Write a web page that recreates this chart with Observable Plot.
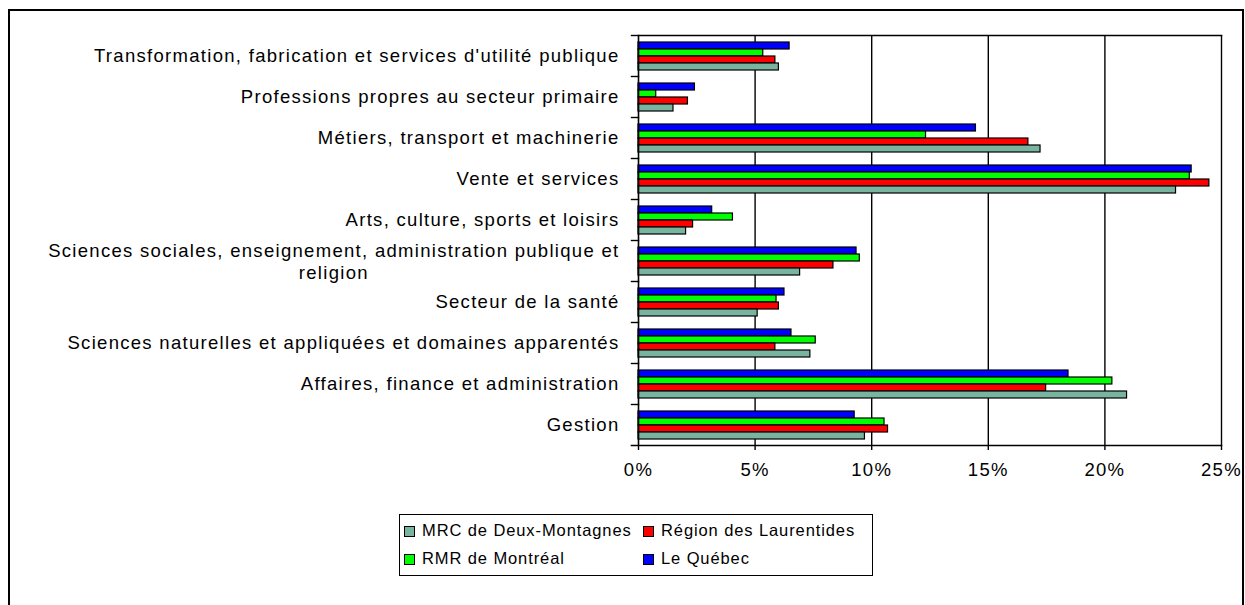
<!DOCTYPE html>
<html>
<head>
<meta charset="utf-8">
<script src="https://cdn.jsdelivr.net/npm/d3@7"></script>
<script src="https://cdn.jsdelivr.net/npm/@observablehq/plot@0.6"></script>
<style>
  html, body { margin: 0; padding: 0; background: #fff; overflow: hidden; width: 1245px; height: 605px; }
  body { font-family: "Liberation Sans", Arial, sans-serif; color: #000; }
  #frame { position: absolute; left: 8px; top: 9px; width: 1236px; height: 700px; border: 2px solid #000; box-sizing: border-box; }
  #chart { position: absolute; left: 0; top: 0; }
  #legend { position: absolute; left: 399px; top: 514px; width: 474px; height: 62px; border: 1.5px solid #000; box-sizing: border-box; background: #fff; font-size: 16.5px; letter-spacing: 0.9px; }
  .item { position: absolute; height: 20px; line-height: 20px; white-space: nowrap; }
  .sw { display: inline-block; width: 11px; height: 11px; border: 1.5px solid #000; box-sizing: border-box; vertical-align: -1px; margin-right: 7px; }
</style>
</head>
<body>
<div id="frame"></div>
<div id="chart"></div>
<div id="legend"></div>
<script>
// Categories, top to bottom
const categories = [
  "Transformation, fabrication et services d'utilité publique",
  "Professions propres au secteur primaire",
  "Métiers, transport et machinerie",
  "Vente et services",
  "Arts, culture, sports et loisirs",
  "Sciences sociales, enseignement, administration publique et religion",
  "Secteur de la santé",
  "Sciences naturelles et appliquées et domaines apparentés",
  "Affaires, finance et administration",
  "Gestion"
];
// Displayed labels (wrapped where the reference wraps)
const categoryLabels = [
  "Transformation, fabrication et services d'utilité publique",
  "Professions propres au secteur primaire",
  "Métiers, transport et machinerie",
  "Vente et services",
  "Arts, culture, sports et loisirs",
  "Sciences sociales, enseignement, administration publique et\nreligion",
  "Secteur de la santé",
  "Sciences naturelles et appliquées et domaines apparentés",
  "Affaires, finance et administration",
  "Gestion"
];
// Series, top to bottom within each group
const series = ["Le Québec", "RMR de Montréal", "Région des Laurentides", "MRC de Deux-Montagnes"];
const seriesColors = ["#0000ff", "#00ff00", "#ff0000", "#78b4a0"];
const legendOrder = ["MRC de Deux-Montagnes", "Région des Laurentides", "RMR de Montréal", "Le Québec"];

// Values (%) per category, same order as categories
const quebec = [6.48, 2.42, 14.47, 23.72, 3.16, 9.35, 6.26, 6.56, 18.44, 9.27];
const rmr    = [5.35, 0.76, 12.33, 23.64, 4.05, 9.49, 5.92, 7.60, 20.32, 10.55];
const region = [5.87, 2.12, 16.72, 24.48, 2.34, 8.36, 6.02, 5.87, 17.48, 10.70];
const mrc    = [6.02, 1.50, 17.24, 23.05, 2.04, 6.93, 5.11, 7.37, 20.95, 9.71];

const xTicks = [0, 5, 10, 15, 20, 25];

// ---- build tables
const valuesBySeries = [quebec, rmr, region, mrc];
const data = [];
categories.forEach((c, i) => {
  series.forEach((s, k) => data.push({category: c, series: s, value: valuesBySeries[k][i]}));
});
const labelData = categories.map((c, i) => ({category: c, label: categoryLabels[i]}));
const singleLabels = labelData.filter(d => !d.label.includes("\n"));
const multiLabels = labelData.filter(d => d.label.includes("\n"));

// ---- layout
const W = 1245, H = 500;
const mL = 638, mR = 24, mT = 30, mB = 51;
const plotW = W - mL - mR;
const fontSize = 18.5, letterSp = 1.3;
const fontFamily = '"Liberation Sans", Arial, sans-serif';
const labelGap = 19;

// measure first line of wrapped label, to center the lines on each other
const ctx = document.createElement("canvas").getContext("2d");
ctx.font = `${fontSize}px ${fontFamily}`;
function textW(t) { return ctx.measureText(t).width + t.length * letterSp; }
const multiWidth = multiLabels.length ? d3.max(multiLabels[0].label.split("\n"), textW) : 0;

const chart = Plot.plot({
  width: W,
  height: H,
  marginLeft: mL,
  marginRight: mR,
  marginTop: mT,
  marginBottom: mB,
  style: {fontFamily, fontSize: `${fontSize}px`, letterSpacing: `${letterSp}px`, color: "#000", background: "transparent"},
  x: {domain: [0, 25], axis: null},
  y: {domain: series, axis: null, paddingInner: 0, paddingOuter: 0.72},
  fy: {domain: categories, axis: null, padding: 0},
  color: {domain: series, range: seriesColors},
  marks: [
    // vertical gridlines
    Plot.ruleX(xTicks.slice(1), {stroke: "#000", strokeWidth: 1.4}),
    // bars
    Plot.barX(data, {x: "value", y: "series", fy: "category", fill: "series", stroke: "#000", strokeWidth: 1.2}),
    // left axis line
    Plot.ruleX([0], {stroke: "#000", strokeWidth: 1.6}),
    // category boundary ticks on the left
    Plot.frame({anchor: "top", insetLeft: -7, insetRight: plotW, stroke: "#000", strokeWidth: 1.4}),
    // top border of the plot
    Plot.frame({anchor: "top", fy: categories[0], stroke: "#000", strokeWidth: 1.6}),
    // bottom axis line
    Plot.frame({anchor: "bottom", fy: categories[categories.length - 1], insetLeft: -7, stroke: "#000", strokeWidth: 1.6}),
    // x axis
    Plot.axisX({ticks: xTicks, tickFormat: d => d + "%", tickSize: 5, tickPadding: 12, stroke: "#000", strokeWidth: 1.4, fill: "#000", label: null}),
    // category labels
    Plot.text(singleLabels, {fy: "category", text: "label", frameAnchor: "left", textAnchor: "end", dx: -labelGap, fill: "#000"}),
    Plot.text(multiLabels, {fy: "category", text: "label", frameAnchor: "left", textAnchor: "middle", dx: -labelGap - multiWidth / 2, lineHeight: 1.2, fill: "#000"})
  ]
});
document.getElementById("chart").appendChild(chart);

// ---- legend (two columns, two rows)
const legend = document.getElementById("legend");
const colX = [[4, 24], [243, 263]];
const rowY = [5, 33];
legendOrder.forEach((name, i) => {
  const col = i % 2, row = Math.floor(i / 2);
  const item = document.createElement("div");
  item.className = "item";
  item.style.left = colX[col][0] + "px";
  item.style.top = rowY[row] + "px";
  const sw = document.createElement("span");
  sw.className = "sw";
  sw.style.background = seriesColors[series.indexOf(name)];
  item.appendChild(sw);
  item.appendChild(document.createTextNode(name));
  legend.appendChild(item);
});
</script>
</body>
</html>
